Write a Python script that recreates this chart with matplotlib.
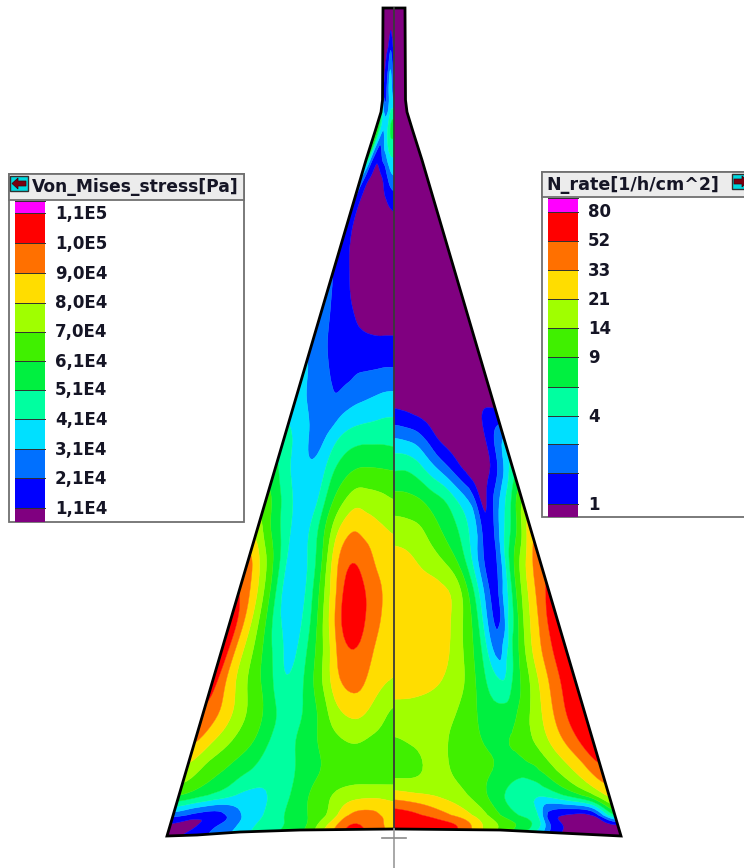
import numpy as np
import matplotlib
matplotlib.use("Agg")
import matplotlib.pyplot as plt
from matplotlib.patches import Rectangle, Polygon

stress_labels = ["1,1E5", "1,0E5", "9,0E4", "8,0E4", "7,0E4", "6,1E4", "5,1E4", "4,1E4", "3,1E4", "2,1E4", "1,1E4"]
rate_labels = ["80", "52", "33", "21", "14", "9", "", "4", "", "", "1"]
band_colors = ["#800080", "#0000ff", "#0070ff", "#00e0ff", "#00ffa0", "#00f040",
               "#40f000", "#a0ff00", "#ffdd00", "#ff7000", "#ff0000", "#ff00ff"]

# rows (image y) and fractional position across each half: 0 = outer edge, 1 = centre line
row_y = [8, 35, 60, 85, 105, 125, 150, 175, 200, 230, 260, 300, 340, 380, 410, 440, 470, 500,
         530, 560, 590, 620, 650, 680, 710, 740, 770, 795, 815, 825, 836]
stress_u = [0, .1, .2, .3, .4, .5, .6, .7, .8, .9, 1]
rate_u = [0, .1, .2, .3, .35, .4, .5, .6, .7, .8, .9, 1]

# values are band positions on the colour scale (0 = lowest band, 11 = top band)
stress_field = [
    [.5, .5, .5, .5, .5, .5, .5, .5, .5, .5, .5],
    [.5, .5, .5, .5, .5, .6, .8, 1.1, .9, .6, .5],
    [.5, .6, .8, 1, 1.3, 1.6, 2.3, 2.6, 2.2, 1.5, 1.1],
    [.6, .9, 1.3, 1.7, 2.2, 2.8, 3.4, 3.5, 3, 2, 1.2],
    [4, 3, 2, 2, 2.2, 2.5, 3, 3.5, 3.6, 3.6, 3.5],
    [7, 6, 5, 4, 3.5, 3.5, 3.8, 4.5, 5.2, 5.5, 5.5],
    [7, 5, 3, 2, 1.5, 2, 3, 3.5, 4.2, 4.4, 4.3],
    [3, 2.2, 1.3, 1, .7, .6, .8, 1.2, 2, 2.8, 3.1],
    [2, 1.2, .8, .5, .4, .4, .5, .8, .95, 1.2, 1.4],
    [1.8, 1.1, .9, .6, .5, .5, .5, .5, .5, .5, .5],
    [1.7, 1.3, 1, .8, .6, .5, .5, .5, .5, .5, .5],
    [2.5, 2, 1.6, 1.2, .95, .8, .7, .6, .6, .6, .6],
    [2.6, 2.3, 1.9, 1.6, 1.4, 1.2, 1.1, 1.05, 1, 1, 1],
    [3.4, 2.8, 2.4, 2.05, 1.8, 1.9, 2.2, 2.3, 2.4, 2.5, 2.5],
    [3.6, 3.2, 2.8, 2.5, 2.3, 2.8, 3.1, 3.3, 3.5, 3.7, 3.8],
    [4.5, 3.9, 3.2, 2.5, 3.3, 4.1, 4.6, 4.8, 4.8, 4.8, 4.7],
    [5.2, 4.2, 3.5, 3.3, 3.8, 5, 5.7, 6.05, 6.1, 6.05, 6],
    [6.5, 5.3, 4.1, 3.5, 3.9, 5.6, 6.8, 7.6, 7.5, 7.3, 7],
    [7.4, 5.9, 4.6, 3.5, 4.3, 6.2, 8.1, 8.95, 8.6, 8.2, 8],
    [9.5, 7.6, 5.4, 3.5, 3.9, 5.8, 8.7, 9.9, 9.6, 8.6, 8.1],
    [9.9, 8.4, 6, 3.6, 3.6, 5.6, 8.3, 10.4, 10.1, 9.3, 8.2],
    [10.8, 8.7, 6.4, 4.1, 3.6, 5.2, 8, 10.4, 10.2, 9.2, 8.2],
    [10.7, 8.5, 6.7, 4.9, 3.7, 5.1, 7.2, 9.6, 9.9, 8.8, 8.1],
    [10.4, 8.4, 6.8, 5.5, 4.05, 5, 7, 9, 9.4, 8.4, 8.05],
    [9.9, 8.9, 7.4, 6.2, 4.9, 4.8, 6, 7.8, 8.4, 7.7, 6.8],
    [9.2, 8, 6.9, 6, 4.8, 5, 5.9, 6.7, 7.1, 6.8, 6.5],
    [7.6, 6.5, 5.8, 5.1, 4.4, 4.8, 5.6, 6.2, 6.4, 6.2, 6.1],
    [6.3, 5.6, 4.8, 3.8, 3.9, 4.8, 6, 7, 7.5, 7.7, 7.7],
    [2.3, 1.4, 1.2, 2.8, 3.9, 5, 5.9, 7, 9.1, 9.4, 8.5],
    [.8, .8, 1.9, 3, 4.2, 4.9, 5.8, 8, 10, 9.6, 8.5],
    [.8, 1.3, 2.3, 3.3, 4.5, 5.2, 6.2, 8.5, 10.4, 9.9, 8.8],
]
rate_field = [
    [.5, .5, .5, .5, .5, .5, .5, .5, .5, .5, .5, .5],
    [.5, .5, .5, .5, .5, .5, .5, .5, .5, .5, .5, .5],
    [.5, .5, .5, .5, .5, .5, .5, .5, .5, .5, .5, .5],
    [.5, .5, .5, .5, .5, .5, .5, .5, .5, .5, .5, .5],
    [.5, .5, .5, .5, .5, .5, .5, .5, .5, .5, .5, .5],
    [.5, .5, .5, .5, .5, .5, .5, .5, .5, .5, .5, .5],
    [.5, .5, .5, .5, .5, .5, .5, .5, .5, .5, .5, .5],
    [.5, .5, .5, .5, .5, .5, .5, .5, .5, .5, .5, .5],
    [.5, .5, .5, .5, .5, .5, .5, .5, .5, .5, .5, .5],
    [.5, .5, .5, .5, .5, .5, .5, .5, .5, .5, .5, .5],
    [.5, .5, .5, .5, .5, .5, .5, .5, .5, .5, .5, .5],
    [.5, .5, .5, .5, .5, .5, .5, .5, .5, .5, .5, .5],
    [.5, .5, .5, .5, .5, .5, .5, .5, .5, .5, .5, .5],
    [.5, .5, .5, .5, .5, .5, .5, .5, .5, .5, .5, .5],
    [.9, 1, .8, .5, .45, .4, .4, .4, .5, .6, .8, .9],
    [3.3, 2, .7, .5, .5, .5, .6, .95, 1.9, 2.7, 3, 3.2],
    [4.4, 2.4, .8, .5, .5, .7, 1.7, 2.7, 3.6, 4.5, 5, 4.95],
    [7, 4.8, 2.6, .7, 1.7, 2.9, 4, 5.1, 5.6, 6.1, 6.3, 6.4],
    [8.6, 6, 3.8, 1.5, 1.9, 3.2, 4.7, 5.5, 6.3, 7.1, 7.4, 7.5],
    [9.8, 8, 5.4, 1.8, 1.4, 2.4, 4.7, 6.3, 7.2, 7.7, 8.2, 8.4],
    [10.1, 8.7, 6.3, 2.9, 1.7, 2.6, 5.5, 7.7, 8.3, 8.5, 8.6, 8.6],
    [10.9, 9.3, 7.2, 4, 1.8, 2.2, 5.4, 7.3, 8.4, 8.6, 8.7, 8.7],
    [10.9, 9.7, 8, 5.5, 3.8, 2.5, 5.2, 7, 8.2, 8.5, 8.5, 8.4],
    [10.9, 9.7, 8, 6, 4.9, 4, 5.1, 6.9, 7.8, 8.3, 8.4, 8.3],
    [10.8, 10, 8.4, 6.8, 6, 5.3, 5.3, 6.4, 7.2, 7.5, 7.7, 7.8],
    [10.9, 9.7, 8.4, 7.1, 6.6, 6.2, 5.8, 6.2, 6.8, 7.4, 7.2, 6.9],
    [9.7, 8.4, 7.2, 6, 5.7, 5.5, 6, 6.4, 6.8, 7.3, 6.6, 6.4],
    [8.3, 6.9, 5.5, 4.4, 4, 4.1, 5, 6.3, 7.3, 7.8, 8.1, 8.4],
    [5.2, .6, .4, 1.4, 4, 4.6, 5.7, 7.4, 8.6, 9.5, 10.3, 10.7],
    [.6, .4, .5, 2.2, 4.3, 5.6, 6.7, 8, 9.9, 10.5, 10.7, 10.8],
    [.5, .4, .4, 1.2, 2.8, 4, 6, 7.7, 9.6, 10.3, 10.6, 10.8],
]

# half width of the section against image y, and the curved lower edge
outline_y = [8, 100, 112, 130, 160, 836]
outline_w = [11, 11.5, 13, 18.5, 28, 227]
bottom_x = [167, 197, 240, 300, 394, 500, 560, 621]
bottom_y = [836, 835, 832, 830, 829, 830, 833, 836]

CENTER = 394
STEP = 6


def catmull(a, n, axis):
    a = np.moveaxis(np.asarray(a, float), axis, 0)
    m = a.shape[0]
    t = np.linspace(0, m - 1, (m - 1) * n + 1)
    i = np.minimum(t.astype(int), m - 2)
    f = (t - i).reshape((-1,) + (1,) * (a.ndim - 1))
    p0, p1, p2, p3 = a[np.maximum(i - 1, 0)], a[i], a[i + 1], a[np.minimum(i + 2, m - 1)]
    out = 0.5 * (2 * p1 + (p2 - p0) * f + (2 * p0 - 5 * p1 + 4 * p2 - p3) * f ** 2
                 + (3 * p1 - p0 - 3 * p2 + p3) * f ** 3)
    return np.moveaxis(out, 0, axis)


def soften_rows(z, half_win, passes):
    kernel = np.ones(2 * half_win + 1) / (2 * half_win + 1)
    for _ in range(passes):
        pad = np.pad(z, ((half_win, half_win), (0, 0)), mode="edge")
        z = np.apply_along_axis(lambda c: np.convolve(c, kernel, mode="valid"), 0, pad)
    return z


fig = plt.figure(figsize=(7.44, 8.68), dpi=100, facecolor="white")
ax = fig.add_axes([0, 0, 1, 1])
ax.set_xlim(0, 744)
ax.set_ylim(868, 0)
ax.axis("off")

ys = np.interp(np.linspace(0, len(row_y) - 1, (len(row_y) - 1) * STEP + 1), np.arange(len(row_y)), row_y)
levels = np.arange(13)


def half(field, cols, sign):
    us = np.interp(np.linspace(0, len(cols) - 1, (len(cols) - 1) * STEP + 1), np.arange(len(cols)), cols)
    U, Y = np.meshgrid(us, ys)
    W = np.interp(Y, outline_y, outline_w)
    Z = catmull(catmull(field, STEP, 1), STEP, 0)
    Z = soften_rows(Z, 2, 2)
    Z = np.clip(Z, 0.01, 11.99)
    X = CENTER + sign * W * (1 - U)
    return ax.contourf(X, Y, Z, levels=levels, colors=band_colors, antialiased=True, zorder=2)


yo = np.array(outline_y[:-1])
wo = np.array(outline_w[:-1])
body_x = list(CENTER - wo) + bottom_x + list(CENTER + wo[::-1])
body_y = list(yo) + bottom_y + list(yo[::-1])
body = Polygon(np.column_stack([body_x, body_y]), closed=True, fill=False,
               edgecolor="black", linewidth=2.0, zorder=4, joinstyle="miter")
ax.add_patch(body)
clip = Polygon(np.column_stack([body_x, body_y]), closed=True, transform=ax.transData)
for cs in (half(stress_field, stress_u, -1), half(rate_field, rate_u, 1)):
    cs.set_clip_path(clip)
    cs.set_edgecolor("face")
    cs.set_linewidth(0.3)

ax.plot([CENTER, CENTER], [8, 829], color="#3a3a3a", lw=1.3, zorder=5)
ax.plot([CENTER, CENTER], [829, 868], color="#9a9a9a", lw=1.2, zorder=5)
ax.plot([382, 406], [838, 838], color="#8a8a8a", lw=1.2, zorder=5)


def legend(x0, x1, top, head, bottom, sw0, sw1, edges, labels, lab_x, title, title_x, title_size):
    ax.add_patch(Rectangle((x0, top), x1 - x0, bottom - top, fc="white", ec="#707070", lw=1.3, zorder=6))
    ax.add_patch(Rectangle((x0, top), x1 - x0, head - top, fc="#ececec", ec="#707070", lw=1.3, zorder=6))
    for k in range(12):
        ax.add_patch(Rectangle((sw0, edges[k]), sw1 - sw0, edges[k + 1] - edges[k],
                               fc=band_colors[11 - k], ec="none", zorder=7))
        ax.plot([sw0, sw1], [edges[k], edges[k]], color="#303030", lw=0.7, zorder=8)
    for e, t in zip(edges[1:12], labels):
        ax.text(lab_x, e + 0.5, t, fontsize=12, fontweight="bold", color="#151525",
                va="center", ha="left", zorder=9)
    ax.text(title_x, (top + head) / 2 + 0.5, title, fontsize=title_size, fontweight="bold", color="#151525",
            va="center", ha="left", zorder=9)


left_edges = [200.7, 213.3, 243.3, 273.3, 302.7, 331.7, 361, 390, 419.3, 449.3, 478.3, 508.3, 521.7]
right_edges = [198.3, 211.7, 241, 270, 299.3, 328.3, 357.3, 387.3, 416, 444, 473.3, 504, 517]
legend(9, 244, 174, 200, 522, 15, 45, left_edges, stress_labels, 55, "Von_Mises_stress[Pa]", 32, 12.3)
legend(542, 760, 172, 197, 517, 548, 578, right_edges, rate_labels, 588, "N_rate[1/h/cm^2]", 546, 12.6)


def icon(x, y, sign):
    ax.add_patch(Rectangle((x, y), 18, 15, fc="#00d8e0", ec="#303030", lw=1, zorder=9))
    c = x + 9
    pts = [(c - 7 * sign, y + 7.5), (c - 1 * sign, y + 2), (c - 1 * sign, y + 5), (c + 7 * sign, y + 5),
           (c + 7 * sign, y + 10), (c - 1 * sign, y + 10), (c - 1 * sign, y + 13)]
    ax.add_patch(Polygon(pts, closed=True, fc="#7a0010", ec="#400008", lw=0.5, zorder=10))


icon(10, 176, 1)
icon(732, 174, -1)
fig.savefig("out.png", dpi=100, facecolor="white")
